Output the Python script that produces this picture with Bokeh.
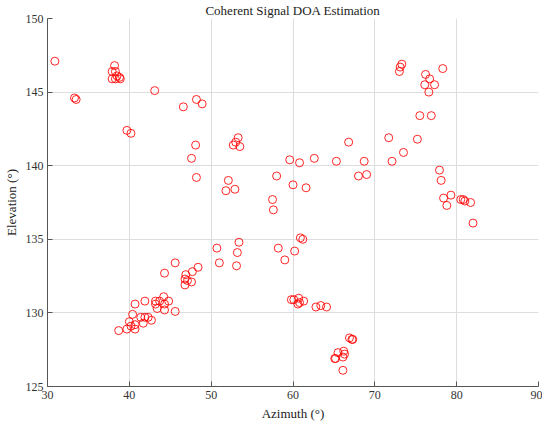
from bokeh.plotting import figure
from bokeh.embed import file_html
from bokeh.resources import INLINE
from bokeh.models import FixedTicker, Range1d

azimuth = [30.9, 33.3, 33.5,
           38.2, 37.9, 38.3, 38.5, 38.8, 37.9, 38.3, 38.9,
           43.1, 46.6, 48.2, 48.9, 39.7, 40.2, 48.1, 47.6, 48.2,
           52.1, 51.8, 52.9, 53.3, 53.0, 52.7, 53.5, 58.0, 57.5, 57.6,
           73.3, 73.1, 73.0, 76.2, 76.7, 76.1, 77.3, 76.6, 78.3, 75.5, 76.9,
           66.8, 71.7, 75.2, 73.5, 72.1, 59.6, 60.8, 62.6, 65.3, 68.7, 68.0, 69.0,
           60.0, 61.6, 77.9, 78.1, 78.4, 79.3, 78.8, 80.5, 80.8, 81.0, 81.7, 82.0,
           53.4, 50.7, 53.2, 51.0, 53.1, 45.6, 44.3, 48.4, 47.7, 46.9, 46.8, 47.1, 47.6, 46.8,
           44.2, 43.2, 43.7, 44.8, 43.2, 44.3, 43.4, 44.3, 45.6, 41.9, 40.7, 40.4, 41.4,
           41.9, 42.3, 42.7, 41.7, 40.0, 40.7, 40.2, 38.7, 39.7, 40.7,
           60.9, 61.2, 58.2, 60.2, 59.0,
           59.8, 60.1, 60.7, 61.3, 60.6, 60.8, 62.8, 63.4, 64.1,
           66.9, 67.2, 67.3, 65.5, 66.2, 66.3, 65.1, 65.2, 66.1, 66.1]
elevation = [147.1, 144.6, 144.5,
             146.8, 146.4, 146.4, 146.1, 146.0, 145.9, 145.9, 145.9,
             145.1, 144.0, 144.5, 144.2, 142.4, 142.2, 141.4, 140.5, 139.2,
             139.0, 138.3, 138.4, 141.9, 141.6, 141.4, 141.3, 139.3, 137.7, 137.0,
             146.9, 146.7, 146.4, 146.2, 145.9, 145.5, 145.5, 145.0, 146.6, 143.4, 143.4,
             141.6, 141.9, 141.8, 140.9, 140.3, 140.4, 140.2, 140.5, 140.3, 140.3, 139.3, 139.4,
             138.7, 138.5, 139.7, 139.0, 137.8, 138.0, 137.3, 137.7, 137.7, 137.6, 137.5, 136.1,
             134.8, 134.4, 134.1, 133.4, 133.2, 133.4, 132.7, 133.1, 132.8, 132.6, 132.3, 132.2, 132.1, 131.9,
             131.1, 130.8, 130.8, 130.8, 130.6, 130.6, 130.3, 130.2, 130.1, 130.8, 130.6, 129.9, 129.7,
             129.7, 129.7, 129.5, 129.3, 129.4, 129.2, 129.1, 128.8, 128.9, 128.9,
             135.1, 135.0, 134.4, 134.2, 133.6,
             130.9, 130.9, 131.0, 130.8, 130.6, 130.7, 130.4, 130.5, 130.4,
             128.3, 128.2, 128.2, 127.3, 127.4, 127.2, 126.9, 126.9, 127.0, 126.1]

x_ticks = [30, 40, 50, 60, 70, 80, 90]
y_ticks = [125, 130, 135, 140, 145, 150]

FONT = "Liberation Serif"

p = figure(frame_width=491, frame_height=368, output_backend="svg", toolbar_location=None,
           x_range=Range1d(30, 90), y_range=Range1d(125, 150),
           min_border_left=39, min_border_right=4, min_border_top=0, min_border_bottom=33,
           title="Coherent Signal DOA Estimation")
p.title.align = "center"
p.title.text_font = FONT
p.title.text_font_size = "13px"
p.title.text_font_style = "normal"
p.title.text_color = "#222222"
p.title.standoff = 1

p.outline_line_color = None
p.background_fill_color = "white"
p.border_fill_color = "white"

for ax, ticks, label in [(p.xaxis[0], x_ticks, "Azimuth (°)"), (p.yaxis[0], y_ticks, "Elevation (°)")]:
    ax.ticker = FixedTicker(ticks=ticks)
    ax.axis_label = label
    ax.axis_label_text_font = FONT
    ax.axis_label_text_font_size = "13px"
    ax.axis_label_text_font_style = "normal"
    ax.axis_label_text_color = "#222222"
    ax.major_label_text_font = FONT
    ax.major_label_text_font_size = "12px"
    ax.major_label_text_color = "#333333"
    ax.axis_line_color = "#555555"
    ax.major_tick_line_color = "#555555"
    ax.major_tick_in = 5
    ax.major_tick_out = 0
    ax.minor_tick_line_color = None
    ax.major_label_standoff = 4
    ax.axis_label_standoff = 4

p.grid.grid_line_color = "#dddddd"
p.xgrid.ticker = FixedTicker(ticks=x_ticks)
p.ygrid.ticker = FixedTicker(ticks=y_ticks)

p.scatter(azimuth, elevation, marker="circle", size=8, fill_color=None,
          line_color="#ff0000", line_width=1, line_alpha=0.85)

open("out.html", "w").write(file_html(p, INLINE))
